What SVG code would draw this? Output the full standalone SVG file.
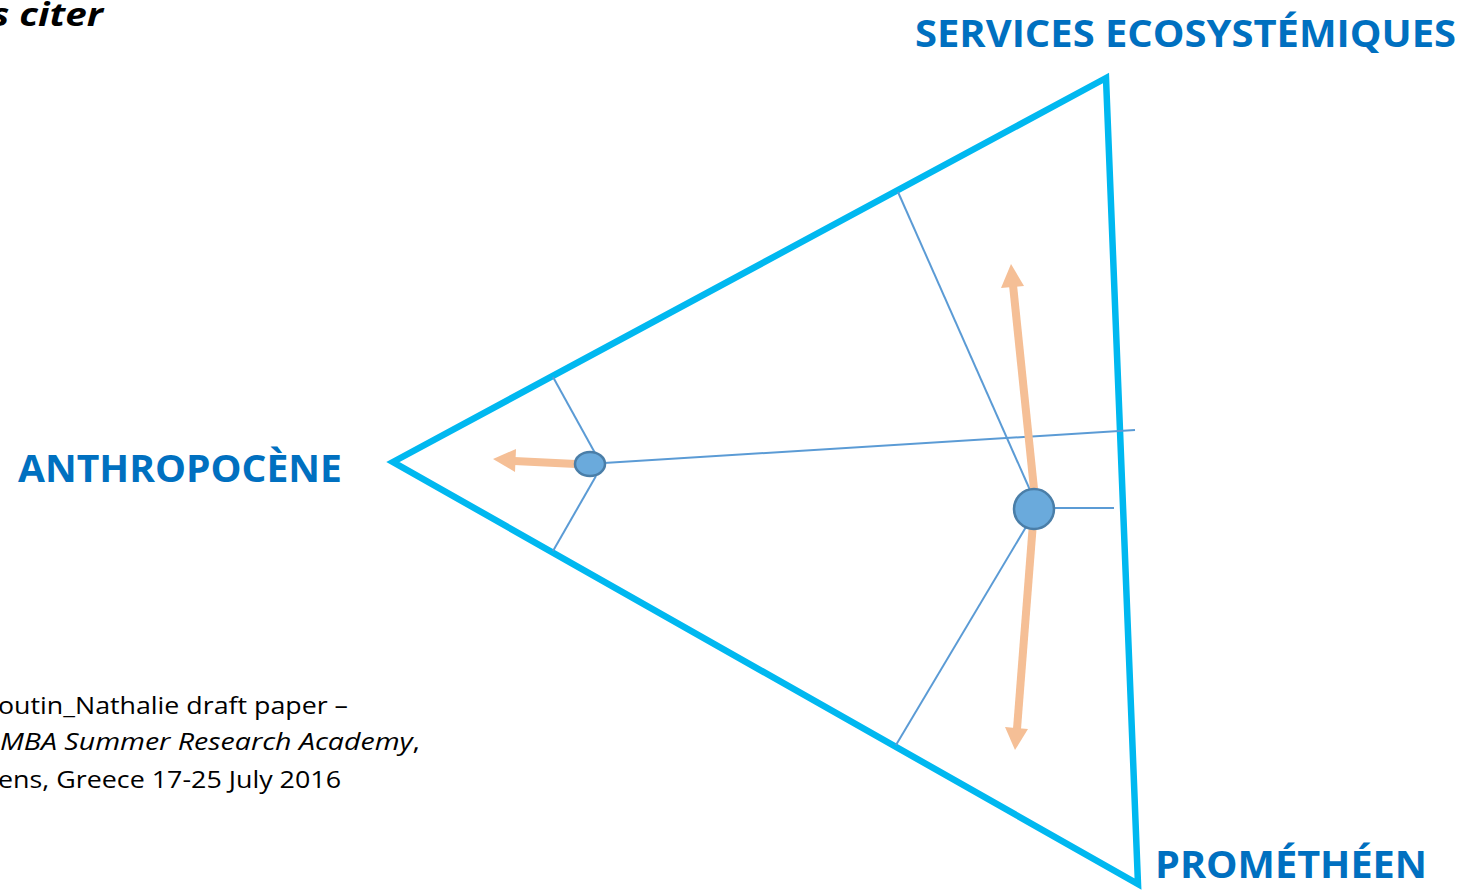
<svg xmlns="http://www.w3.org/2000/svg" width="1463" height="892" viewBox="0 0 1463 892">
<style>
.lbl{font-family:"Open Sans","Liberation Sans",sans-serif;font-weight:bold;fill:#0070C0;font-size:38px}
.note{font-family:"Open Sans","Liberation Sans",sans-serif;font-size:23px;fill:#000}
.thin{stroke:#5B9BD5;stroke-width:2;fill:none}
.arr{stroke:#F5BF96;stroke-width:8;fill:none}
.head{fill:#F5BF96}
.node{fill:#6AAADC;stroke:#4A7EA8;stroke-width:2.5}
</style>
<rect width="1463" height="892" fill="#fff"/>
<text x="103" y="26" font-family="'Open Sans','Liberation Sans',sans-serif" font-weight="bold" font-style="italic" font-size="33" text-anchor="end" textLength="112" lengthAdjust="spacingAndGlyphs">s citer</text>
<g id="triangle">
<polygon points="1106,78 393,462 1138,884" fill="none" stroke="#00B8F0" stroke-width="6.5" stroke-linejoin="miter"/>
</g>
<g id="connectors">
<line class="thin" x1="553" y1="377" x2="595" y2="453"/>
<line class="thin" x1="596" y1="476" x2="553" y2="551"/>
<line class="thin" x1="604" y1="463" x2="1135" y2="430"/>
<line class="thin" x1="1030" y1="490" x2="898" y2="192"/>
<line class="thin" x1="1026" y1="527" x2="896" y2="745"/>
<line class="thin" x1="1054" y1="508" x2="1114" y2="508"/>
<line class="arr" x1="576" y1="464" x2="514" y2="461"/>
<polygon class="head" points="493,459 516,449 515,472"/>
<line class="arr" x1="1034" y1="489" x2="1013" y2="285"/>
<polygon class="head" points="1011,264 1001,288 1024,286"/>
<line class="arr" x1="1033" y1="523" x2="1017" y2="729"/>
<polygon class="head" points="1015,750 1005,727 1028,729"/>
</g>
<g id="node-anthropocene-point">
<ellipse class="node" cx="590" cy="464" rx="15" ry="12"/>
</g>
<g id="node-promethean-point">
<circle class="node" cx="1034" cy="509" r="20"/>
</g>
<g id="label-services">
<text class="lbl" x="915" y="47" textLength="541" lengthAdjust="spacingAndGlyphs">SERVICES ECOSYSTÉMIQUES</text>
</g>
<g id="label-anthropocene">
<text class="lbl" x="18" y="482" textLength="324" lengthAdjust="spacingAndGlyphs">ANTHROPOCÈNE</text>
</g>
<g id="label-promethean">
<text class="lbl" x="1155" y="878" textLength="272" lengthAdjust="spacingAndGlyphs">PROMÉTHÉEN</text>
</g>
<g id="note">
<text class="note" x="348" y="714" text-anchor="end" textLength="350" lengthAdjust="spacingAndGlyphs">outin_Nathalie draft paper –</text>
<text class="note" x="420" y="750" text-anchor="end" textLength="420" lengthAdjust="spacingAndGlyphs"><tspan font-style="italic">MBA Summer Research Academy</tspan>,</text>
<text class="note" x="341" y="788" text-anchor="end" textLength="343" lengthAdjust="spacingAndGlyphs">ens, Greece 17-25 July 2016</text>
</g>
</svg>
